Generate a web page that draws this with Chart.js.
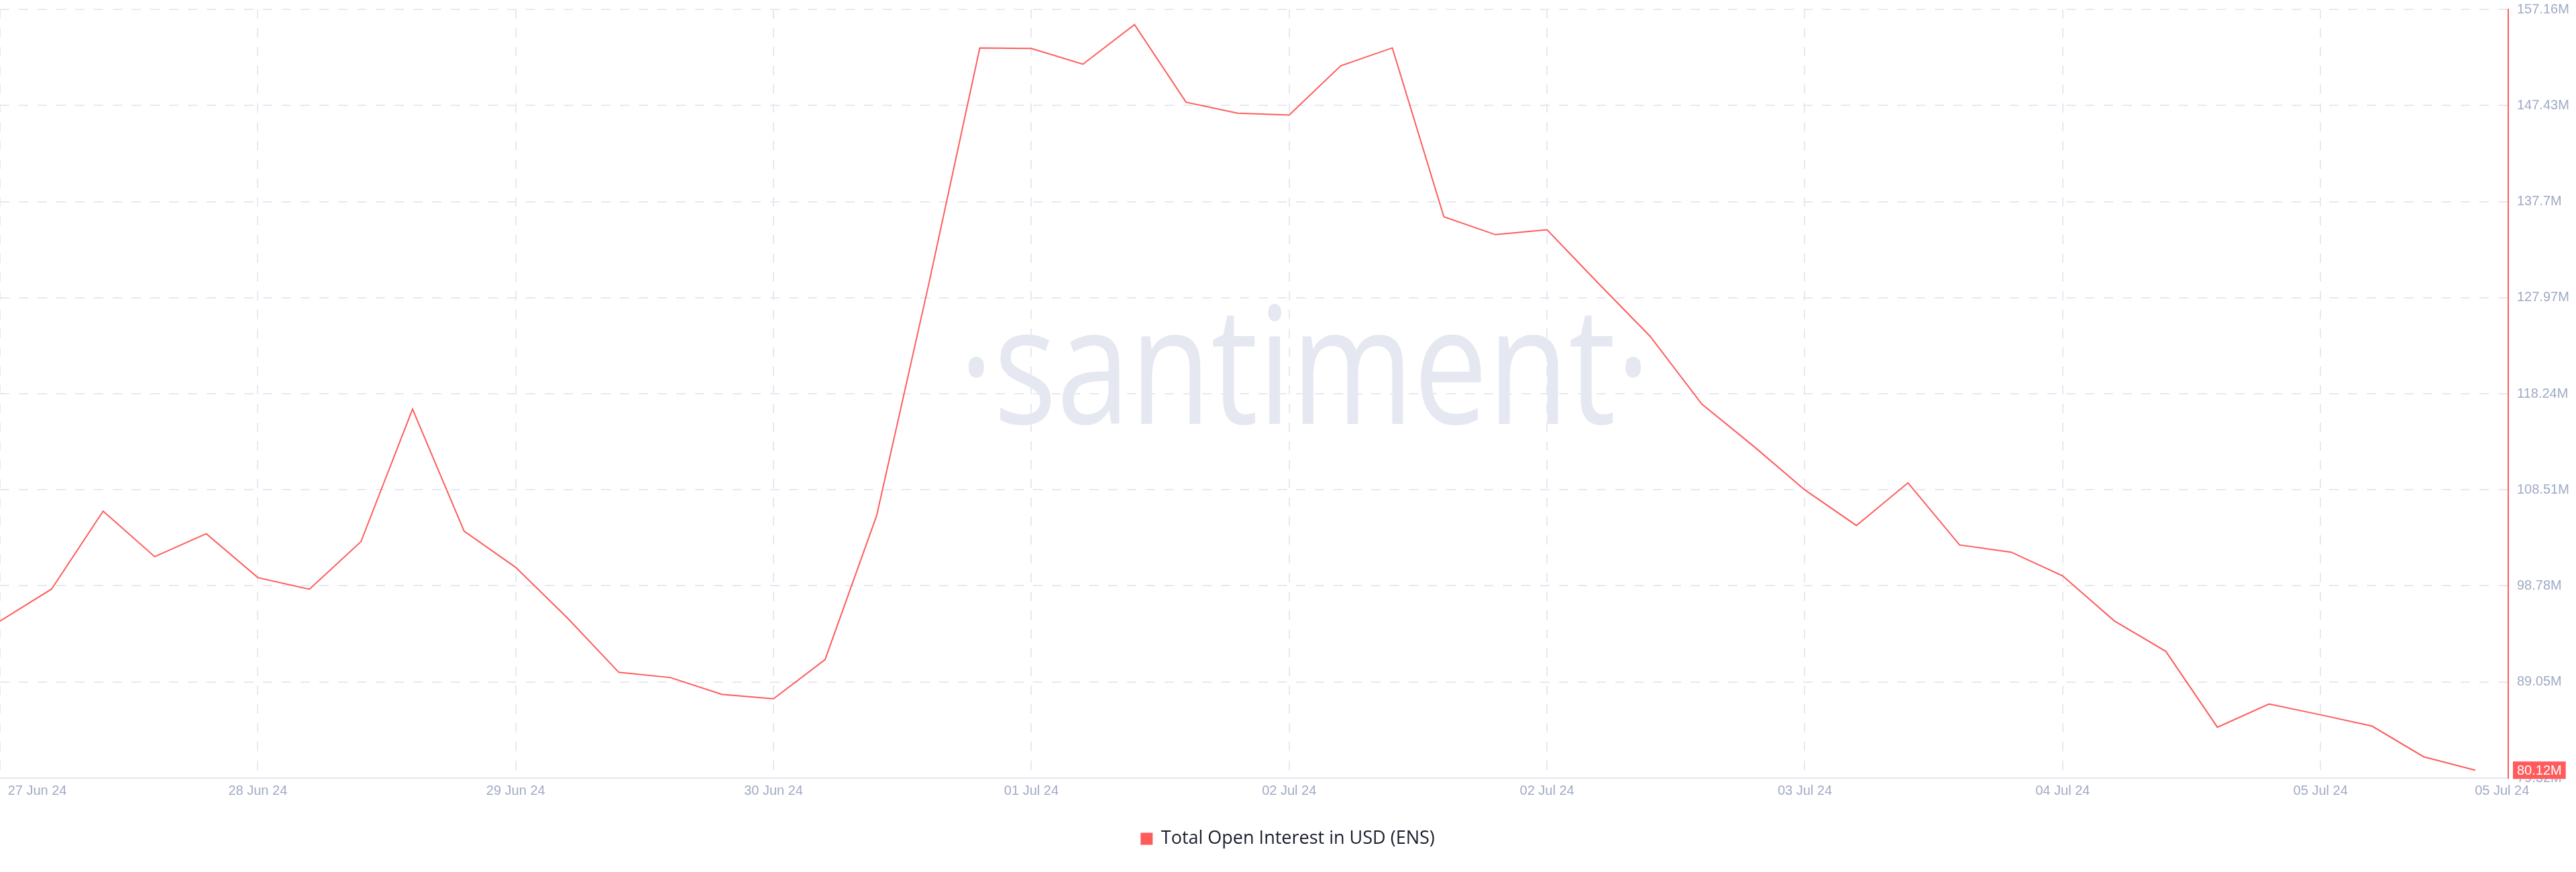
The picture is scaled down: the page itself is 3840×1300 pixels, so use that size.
<!DOCTYPE html>
<html>
<head>
<meta charset="utf-8">
<title>Total Open Interest in USD (ENS)</title>
<script src="https://cdn.jsdelivr.net/npm/chart.js@4.4.1/dist/chart.umd.min.js"></script>
<style>
  html, body { margin: 0; padding: 0; background: #fff; }
  #wrap { width: 3840px; height: 1300px; position: relative; }
</style>
</head>
<body>
<div id="wrap"><canvas id="chart"></canvas></div>
<script>
// ENS total open interest (millions USD), one reading per step from 27 Jun to 05 Jul 24
const oiValues = [
  95.22, 98.46, 106.36, 101.74, 104.07, 99.62, 98.44, 103.26, 116.68, 104.32,
  100.66, 95.55, 90.03, 89.5, 87.8, 87.35, 91.32, 105.9, 129.1, 153.25,
  153.2, 151.61, 155.62, 147.76, 146.65, 146.46, 151.45, 153.26, 136.16, 134.35,
  134.84, 129.4, 124.05, 117.2, 112.95, 108.5, 104.9, 109.22, 102.93, 102.2,
  99.8, 95.24, 92.15, 84.47, 86.82, 85.73, 84.58, 81.48, 80.12
];
// x ticks sit on data steps; the last one is the end of the range
const xTickSteps = [0, 5, 10, 15, 20, 25, 30, 35, 40, 45, 48.52];
const xTickLabels = ['27 Jun 24', '28 Jun 24', '29 Jun 24', '30 Jun 24', '01 Jul 24', '02 Jul 24',
  '02 Jul 24', '03 Jul 24', '04 Jul 24', '05 Jul 24', '05 Jul 24'];
const xMax = 48.64;
const yTicks = [79.32, 89.05, 98.78, 108.51, 118.24, 127.97, 137.7, 147.43, 157.16];
const seriesLabel = 'Total Open Interest in USD (ENS)';

const RED = '#ff5b5b';
const GRID = '#e6e9f3';
const TICK = '#9faac4';
const TICK_FONT = { family: "'Liberation Sans', Arial, sans-serif", size: 20 };

// faint brand mark behind the plot
const watermark = {
  id: 'watermark',
  beforeDraw(chart) {
    const { ctx } = chart;
    const sx = 0.81;
    ctx.save();
    ctx.fillStyle = '#e5e8f1';
    ctx.font = "400 243px 'Open Sans', sans-serif";
    ctx.textAlign = 'center';
    ctx.textBaseline = 'alphabetic';
    ctx.scale(sx, 1);
    ctx.fillText('\u00b7santiment\u00b7', (chart.width * 0.5065) / sx, 632);
    ctx.restore();
  }
};

// red tag with the latest value on the right axis
const lastValueTag = {
  id: 'lastValueTag',
  afterDraw(chart) {
    const { ctx, chartArea } = chart;
    const y = chart.scales.y.getPixelForValue(oiValues[oiValues.length - 1]);
    const text = oiValues[oiValues.length - 1] + 'M';
    ctx.save();
    ctx.font = "20px 'Liberation Sans', Arial, sans-serif";
    const w = ctx.measureText(text).width + 12;
    ctx.fillStyle = RED;
    ctx.fillRect(chartArea.right + 7, y - 13, w, 26);
    ctx.fillStyle = '#fff';
    ctx.textBaseline = 'middle';
    ctx.textAlign = 'left';
    ctx.fillText(text, chartArea.right + 13, y + 1);
    ctx.restore();
  }
};

new Chart(document.getElementById('chart'), {
  type: 'line',
  data: {
    datasets: [{
      label: seriesLabel,
      data: oiValues.map((v, i) => ({ x: i, y: v })),
      borderColor: RED,
      backgroundColor: RED,
      borderWidth: 2,
      pointRadius: 0,
      tension: 0,
      fill: false
    }]
  },
  options: {
    responsive: true,
    maintainAspectRatio: false,
    animation: false,
    layout: { autoPadding: false, padding: { top: 14, left: 0, right: 0, bottom: 26 } },
    plugins: {
      legend: {
        display: true,
        position: 'bottom',
        labels: {
          boxWidth: 16,
          boxHeight: 16,
          color: '#181b2b',
          padding: 10,
          font: { family: "'Open Sans', sans-serif", size: 27 }
        }
      },
      tooltip: { enabled: false }
    },
    scales: {
      x: {
        type: 'linear',
        min: 0,
        max: xMax,
        afterBuildTicks: (scale) => { scale.ticks = xTickSteps.map(v => ({ value: v })); },
        afterFit: (scale) => {
          scale.height = 67;
          // labels may hang over the plot edges, don't shrink the plot for them
          scale.paddingLeft = 0;
          scale.paddingRight = 0;
        },
        grid: {
          color: (ctx) => ctx.index === xTickSteps.length - 1 ? 'rgba(0,0,0,0)' : GRID,
          lineWidth: 2,
          drawTicks: false
        },
        border: { display: true, color: '#e3e7f0', width: 2, dash: [14, 14] },
        ticks: {
          autoSkip: false,
          maxRotation: 0,
          padding: 7,
          color: TICK,
          font: TICK_FONT,
          // first label is pushed right with leading blanks so it stays on the canvas
          callback: (v, i) => (i === 0 ? ' '.repeat(20) : '') + xTickLabels[i]
        }
      },
      y: {
        position: 'right',
        min: yTicks[0],
        max: yTicks[yTicks.length - 1],
        afterBuildTicks: (scale) => { scale.ticks = yTicks.map(v => ({ value: v })); },
        afterFit: (scale) => {
          scale.width = 101;
          scale.paddingTop = 0;
          scale.paddingBottom = 0;
        },
        grid: { color: GRID, lineWidth: 2, drawTicks: false },
        border: { display: true, color: RED, width: 2, dash: [14, 14] },
        ticks: {
          padding: 13,
          color: TICK,
          font: TICK_FONT,
          callback: (v) => v + 'M'
        }
      }
    }
  },
  plugins: [watermark, lastValueTag]
});
</script>
</body>
</html>
